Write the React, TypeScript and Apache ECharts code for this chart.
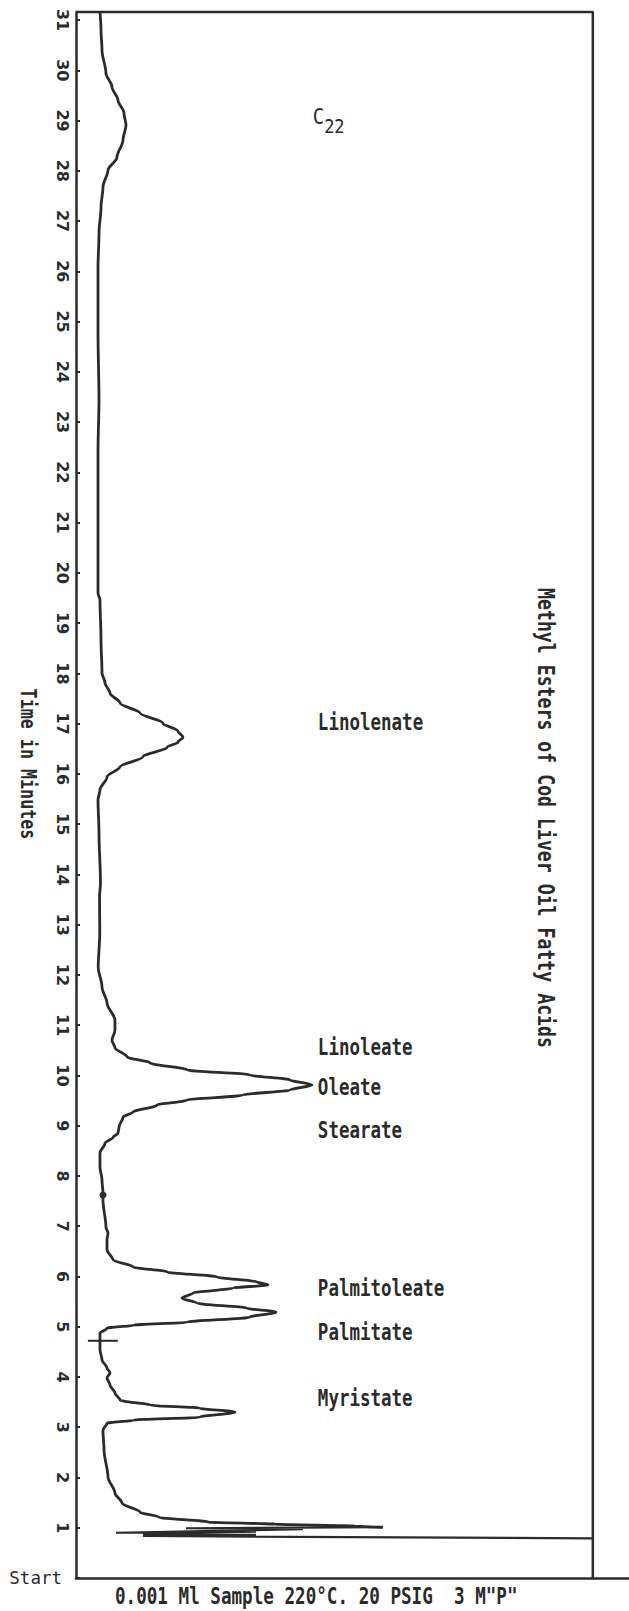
import React, { useEffect, useRef } from 'react';
import * as echarts from 'echarts';

// Detector trace (response in % of chart width, time in minutes), read from top (end) to the solvent front
const traceTime = [31.16, 30.8, 30.4, 29.94, 29.67, 29.41, 29.15, 28.91, 28.61, 28.27, 28.01, 27.68, 27.28, 26.76, 26.08, 24.77, 23.44, 22.44, 21.45, 19.6, 19.46, 18.66, 18.01, 17.81, 17.61, 17.41, 17.21, 17.01, 16.85, 16.73, 16.63, 16.53, 16.34, 16.14, 15.94, 15.68, 15.48, 14.82, 13.83, 13.55, 12.83, 12.16, 11.76, 11.44, 11.1, 10.9, 10.7, 10.55, 10.37, 10.25, 10.11, 10.01, 9.91, 9.81, 9.71, 9.61, 9.51, 9.41, 9.27, 9.17, 8.97, 8.85, 8.77, 8.65, 8.46, 8.18, 7.92, 7.66, 7.52, 6.98, 6.86, 6.73, 6.53, 6.33, 6.19, 6.09, 5.99, 5.89, 5.83, 5.77, 5.67, 5.57, 5.47, 5.37, 5.29, 5.19, 5.09, 5.03, 4.97, 4.87, 4.54, 4.34, 4.18, 4.08, 3.98, 3.84, 3.68, 3.54, 3.44, 3.38, 3.3, 3.2, 3.14, 3.08, 2.94, 2.55, 2.01, 1.69, 1.49, 1.31, 1.21, 1.11, 1.07, 1.03, 1.01];
const traceResponse = [4.64, 4.84, 5.03, 5.8, 6.96, 8.12, 9.28, 9.67, 9.09, 7.93, 6.19, 5.22, 4.84, 4.45, 4.26, 4.26, 4.45, 4.26, 4.26, 4.26, 4.64, 4.84, 5.03, 5.61, 6.58, 8.51, 12.38, 16.83, 19.73, 20.7, 19.73, 17.6, 12.96, 8.51, 6.0, 4.64, 4.26, 4.45, 4.74, 4.55, 4.6, 4.3, 5.03, 6.0, 7.54, 7.54, 6.96, 7.54, 9.86, 14.31, 21.47, 33.66, 41.39, 45.65, 41.39, 32.3, 21.47, 15.67, 11.03, 9.09, 8.32, 8.12, 7.16, 5.61, 4.64, 4.64, 5.03, 5.22, 5.22, 5.8, 6.19, 6.0, 6.0, 7.16, 11.03, 17.6, 27.27, 35.01, 37.14, 30.37, 22.63, 20.5, 23.4, 33.08, 38.68, 33.66, 21.47, 11.03, 6.0, 4.64, 4.64, 5.03, 6.0, 6.58, 6.0, 6.58, 7.54, 8.51, 14.31, 23.98, 30.75, 23.98, 11.03, 6.0, 5.22, 5.42, 6.19, 7.54, 8.9, 12.38, 16.05, 25.73, 38.68, 54.16, 59.38];

// Pen sweeps at the solvent front (off-scale)
const solventTime = [1.01, 0.99, 0.97, 0.9, 0.92, 0.88, 0.86, 0.84, 0.82, 0.79];
const solventResponse = [59.38, 21.28, 43.91, 7.74, 34.82, 12.96, 34.82, 12.96, 41.97, 100];

// Hand mark on the trace
const crossTime = [4.72, 4.72];
const crossResponse = [2.3, 8.1];
const dotTime = [7.62];
const dotResponse = [5.22];

// Peak annotations
const peakNames = ['C22', 'Linolenate', 'Linoleate', 'Oleate', 'Stearate', 'Palmitoleate', 'Palmitate', 'Myristate'];
const peakTimes = [29.01, 17.03, 10.57, 9.77, 8.91, 5.77, 4.89, 3.58];
const peakLabelResponse = [45.8, 46.8, 46.8, 46.8, 46.8, 46.8, 46.8, 46.8];

// Time axis tick labels (minutes)
const timeTickLabels = ['Start', '1', '2', '3', '4', '5', '6', '7', '8', '9', '10', '11', '12', '13', '14', '15', '16', '17', '18', '19', '20', '21', '22', '23', '24', '25', '26', '27', '28', '29', '30', '31'];

const TIME_MAX = 31.16;
const RESP_MAX = 107;
const FRAME_RESP = 100;

const INK = '#2b2b2b';
const MONO = '"DejaVu Sans Mono", "Liberation Mono", monospace';
const STRETCH = 1.3;

export default function App() {
  const ref = useRef<HTMLDivElement>(null);
  useEffect(() => {
    if (!ref.current) return;
    const chart = echarts.init(ref.current, undefined, { renderer: 'svg' });
    const trace = traceTime.map((t, i) => [traceResponse[i], t]);
    const solvent = solventTime.map((t, i) => [solventResponse[i], t]);
    const cross = crossTime.map((t, i) => [crossResponse[i], t]);
    const dots = dotTime.map((t, i) => [dotResponse[i], t]);

    const option: any = {
      animation: false,
      backgroundColor: '#ffffff',
      grid: { left: 76, right: 0, top: 12, bottom: 33 },
      xAxis: {
        type: 'value', min: 0, max: RESP_MAX,
        axisLine: { show: true, lineStyle: { color: INK, width: 2.5 } },
        axisTick: { show: false }, axisLabel: { show: false }, splitLine: { show: false },
      },
      yAxis: [
        {
          type: 'value', min: 0, max: TIME_MAX, interval: 1,
          axisLine: { show: true, lineStyle: { color: INK, width: 2.5 } },
          axisTick: { show: true, inside: true, length: 4, lineStyle: { color: INK, width: 2 } },
          axisLabel: {
            rotate: -90, margin: 6, fontSize: 16, fontWeight: 'bold', color: INK,
            fontFamily: '"DejaVu Sans", sans-serif',
            formatter: (v: number) => (Number.isInteger(v) && v > 0 ? timeTickLabels[v] : ''),
          },
          splitLine: { show: false },
        },
        {
          type: 'value', min: 0, max: TIME_MAX, interval: 1, position: 'left',
          axisLine: { show: false }, axisTick: { show: false }, splitLine: { show: false },
          axisLabel: {
            margin: 14, fontSize: 17.5, color: INK, fontFamily: MONO,
            formatter: (v: number) => (v === 0 ? timeTickLabels[0] : ''),
          },
        },
      ],
      series: [
        {
          name: 'trace', type: 'line', data: trace, symbol: 'none', smooth: 0.3, smoothMonotone: 'y',
          lineStyle: { color: INK, width: 2.8 }, z: 3,
        },
        {
          name: 'solvent', type: 'line', data: solvent, symbol: 'none', clip: false,
          lineStyle: { color: INK, width: 2.2 }, z: 3,
        },
        {
          name: 'frame', type: 'line', data: [[0, TIME_MAX], [FRAME_RESP, TIME_MAX], [FRAME_RESP, 0]],
          symbol: 'none', clip: false, lineStyle: { color: INK, width: 2.5 }, z: 2,
        },
        {
          name: 'cross', type: 'line', data: cross, symbol: 'none', clip: false,
          lineStyle: { color: INK, width: 2 },
        },
        {
          name: 'dot', type: 'scatter', data: dots, symbolSize: 7, itemStyle: { color: INK, opacity: 1 },
        },
      ],
    };
    chart.setOption(option);

    // Peak labels placed at their data coordinates through the chart's own scales
    const peakGraphics = peakNames.map((n, i) => {
      const [px, py] = chart.convertToPixel({ gridIndex: 0 }, [peakLabelResponse[i], peakTimes[i]]) as number[];
      if (n === 'C22') {
        return {
          type: 'text', x: px, y: py, scaleY: 1.15,
          style: {
            text: '{c|C}{s|22}', fill: INK, align: 'left', verticalAlign: 'middle',
            rich: {
              c: { fontFamily: MONO, fontSize: 19, fill: INK, padding: [0, 0, 6, 0] },
              s: { fontFamily: MONO, fontSize: 17, fill: INK, padding: [10, 0, 0, 0] },
            },
          },
        };
      }
      return {
        type: 'text', x: px, y: py, scaleY: STRETCH,
        style: {
          text: n, fill: INK, fontFamily: MONO, fontSize: 17.5, fontWeight: 'bold',
          align: 'left', verticalAlign: 'middle',
        },
      };
    });

    chart.setOption({
      graphic: [
        {
          type: 'text', x: 546, y: 818, rotation: -Math.PI / 2, scaleY: STRETCH,
          style: {
            text: 'Methyl Esters of Cod Liver Oil Fatty Acids', fill: INK,
            fontFamily: MONO, fontSize: 18.2, fontWeight: 'bold', align: 'center', verticalAlign: 'middle',
          },
        },
        {
          type: 'text', x: 28, y: 764, rotation: -Math.PI / 2, scaleY: STRETCH,
          style: {
            text: 'Time in Minutes', fill: INK,
            fontFamily: MONO, fontSize: 16.7, fontWeight: 'bold', align: 'center', verticalAlign: 'middle',
          },
        },
        {
          type: 'text', x: 115, y: 1596, scaleY: STRETCH,
          style: {
            text: '0.001 Ml Sample 220°C. 20 PSIG  3 M"P"', fill: INK,
            fontFamily: MONO, fontSize: 17.6, fontWeight: 'bold', align: 'left', verticalAlign: 'middle',
          },
        },
        ...peakGraphics,
      ],
    });
    return () => chart.dispose();
  }, []);
  return <div ref={ref} style={{ position: 'absolute', left: 0, top: 0, width: 629, height: 1611 }} />;
}
